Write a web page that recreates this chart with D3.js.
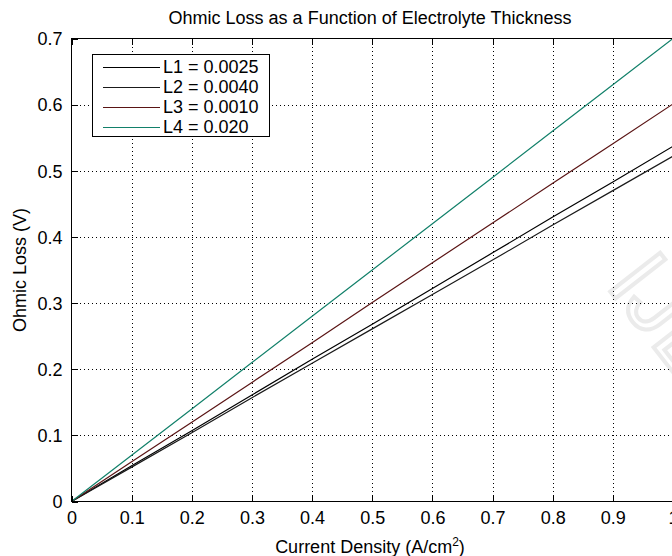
<!DOCTYPE html>
<html>
<head>
<meta charset="utf-8">
<script src="https://cdn.jsdelivr.net/npm/d3@7"></script>
<style>
  body { margin: 0; background: #fff; }
  svg text { font-family: "Liberation Sans", Arial, sans-serif; fill: #000; }
</style>
</head>
<body>
<div id="chart"></div>
<script>
// Chart size
const width = 672;
const height = 556;

// Data
const currentDensity = [0, 0.1, 0.2, 0.3, 0.4, 0.5, 0.6, 0.7, 0.8, 0.9, 1.0];
const lossL1 = [0, 0.054, 0.107, 0.161, 0.215, 0.268, 0.322, 0.376, 0.430, 0.483, 0.537];
const lossL2 = [0, 0.052, 0.104, 0.157, 0.209, 0.261, 0.313, 0.365, 0.418, 0.470, 0.522];
const lossL3 = [0, 0.060, 0.120, 0.180, 0.240, 0.301, 0.361, 0.421, 0.481, 0.541, 0.601];
const lossL4 = [0, 0.070, 0.140, 0.210, 0.280, 0.350, 0.420, 0.490, 0.560, 0.630, 0.700];
const seriesNames = ["L1 = 0.0025", "L2 = 0.0040", "L3 = 0.0010", "L4 = 0.020"];
const seriesColors = ["#000000", "#1a1a1a", "#5a1414", "#12806a"];
const xTicks = [0, 0.1, 0.2, 0.3, 0.4, 0.5, 0.6, 0.7, 0.8, 0.9, 1];
const yTicks = [0, 0.1, 0.2, 0.3, 0.4, 0.5, 0.6, 0.7];

const series = [lossL1, lossL2, lossL3, lossL4];

// Plot box
const plotLeft = 71.5, plotRight = 673, plotTop = 38.5, plotBottom = 501.5;

const svg = d3.select("#chart")
    .append("svg")
    .attr("width", width)
    .attr("height", height);

const x = d3.scaleLinear().domain([0, 1]).range([plotLeft, plotRight]);
const y = d3.scaleLinear().domain([0, 0.7]).range([plotBottom, plotTop]);

// Faint watermark in the lower right
svg.append("text")
    .attr("transform", "translate(605,285) rotate(52)")
    .attr("font-size", 92)
    .style("fill", "none")
    .style("stroke", "#ebebeb")
    .style("stroke-width", 4)
    .text("IJERT");

// Dotted grid
const grid = svg.append("g").attr("shape-rendering", "crispEdges");
grid.selectAll("line.vx")
    .data(xTicks.slice(1, -1))
    .enter()
    .append("line")
    .attr("x1", d => Math.round(x(d)) + 0.5)
    .attr("x2", d => Math.round(x(d)) + 0.5)
    .attr("y1", plotTop)
    .attr("y2", plotBottom)
    .style("stroke", "#000")
    .style("stroke-dasharray", "1,3");
grid.selectAll("line.hy")
    .data(yTicks.slice(1, -1))
    .enter()
    .append("line")
    .attr("y1", d => Math.round(y(d)) + 0.5)
    .attr("y2", d => Math.round(y(d)) + 0.5)
    .attr("x1", plotLeft)
    .attr("x2", plotRight)
    .style("stroke", "#000")
    .style("stroke-dasharray", "1,3");

// Lines
const line = d3.line()
    .x((d, i) => x(currentDensity[i]))
    .y(d => y(d));

svg.selectAll("path.series")
    .data(series)
    .enter()
    .append("path")
    .attr("d", line)
    .style("fill", "none")
    .style("stroke", (d, i) => seriesColors[i])
    .style("stroke-width", 1.2);

// Axes with inward ticks
const axisBottom = d3.axisBottom(x).tickValues(xTicks).tickSizeInner(-6).tickSizeOuter(0)
    .tickPadding(10).tickFormat(d => d === 0 ? "0" : d === 1 ? "1" : d3.format(".1f")(d));
const axisLeft = d3.axisLeft(y).tickValues(yTicks).tickSizeInner(-6).tickSizeOuter(0)
    .tickPadding(9).tickFormat(d => d === 0 ? "0" : d3.format(".1f")(d));

const gx = svg.append("g")
    .attr("transform", `translate(0,${plotBottom})`)
    .call(axisBottom);
const gy = svg.append("g")
    .attr("transform", `translate(${plotLeft},0)`)
    .call(axisLeft);
const gxTop = svg.append("g")
    .attr("transform", `translate(0,${plotTop})`)
    .call(d3.axisTop(x).tickValues(xTicks).tickSizeInner(-6).tickSizeOuter(0).tickFormat(""));

[gx, gy, gxTop].forEach(g => {
    g.selectAll("text").attr("font-size", 18).style("font-family", "Liberation Sans, Arial, sans-serif");
    g.selectAll("line,path").style("stroke", "#000").attr("shape-rendering", "crispEdges");
    g.select(".domain").remove();
});
gy.selectAll("text").attr("dy", "0.35em");

// Plot frame
svg.append("rect")
    .attr("x", plotLeft)
    .attr("y", plotTop)
    .attr("width", plotRight - plotLeft)
    .attr("height", plotBottom - plotTop)
    .style("fill", "none")
    .style("stroke", "#000")
    .attr("shape-rendering", "crispEdges");

// Title and axis labels
svg.append("text")
    .attr("x", 370)
    .attr("y", 24)
    .attr("text-anchor", "middle")
    .attr("font-size", 18)
    .text("Ohmic Loss as a Function of Electrolyte Thickness");

const xLabel = svg.append("text")
    .attr("x", 370)
    .attr("y", 553)
    .attr("text-anchor", "middle")
    .attr("font-size", 18);
xLabel.append("tspan").text("Current Density (A/cm");
xLabel.append("tspan").attr("dy", -7).attr("font-size", 12).text("2");
xLabel.append("tspan").attr("dy", 7).text(")");

svg.append("text")
    .attr("transform", "translate(26,270) rotate(-90)")
    .attr("text-anchor", "middle")
    .attr("font-size", 18)
    .text("Ohmic Loss (V)");

// Legend
const legend = svg.append("g");
legend.append("rect")
    .attr("x", 92.5)
    .attr("y", 54.5)
    .attr("width", 177)
    .attr("height", 82)
    .style("fill", "#fff")
    .style("stroke", "#000")
    .attr("shape-rendering", "crispEdges");

const rows = legend.selectAll("g.row")
    .data(seriesNames)
    .enter()
    .append("g")
    .attr("transform", (d, i) => `translate(0,${67 + i * 20})`);
rows.append("line")
    .attr("x1", 103)
    .attr("x2", 160)
    .attr("y1", 0.5)
    .attr("y2", 0.5)
    .style("stroke", (d, i) => seriesColors[i])
    .style("stroke-width", 1.2);
rows.append("text")
    .attr("x", 163)
    .attr("y", 0)
    .attr("dy", "0.35em")
    .attr("font-size", 18)
    .text(d => d);
</script>
</body>
</html>
